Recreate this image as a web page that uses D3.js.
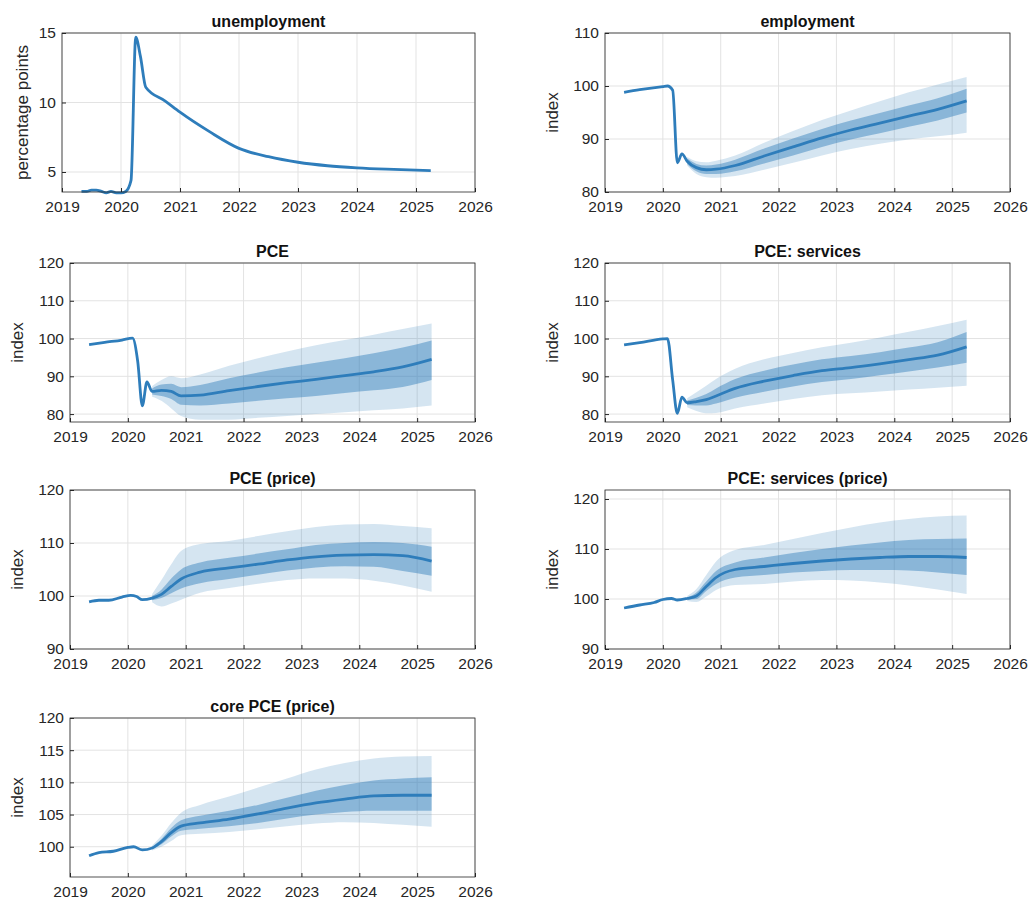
<!DOCTYPE html>
<html><head><meta charset="utf-8">
<script src="https://cdn.jsdelivr.net/npm/d3@7"></script>
<style>
body{margin:0;background:#fff;font-family:"Liberation Sans",Arial,sans-serif}
.tick text{font-size:15.5px;fill:#262626}
.grid line{stroke:#e3e3e3}
</style></head><body>
<svg id="chart" width="1030" height="903"></svg>
<script>
const yearTicks = [2019, 2020, 2021, 2022, 2023, 2024, 2025, 2026];
const bandT = [2020.42, 2020.58, 2020.75, 2020.92, 2021.25, 2021.75, 2022.25, 2022.75, 2023.25, 2023.75, 2024.25, 2024.75, 2025.25];

// unemployment (no bands)
const unempT = [2019.33, 2019.42, 2019.5, 2019.58, 2019.67, 2019.75, 2019.83, 2019.92, 2020.0, 2020.08, 2020.17, 2020.25, 2020.33, 2020.42, 2020.75, 2021.0, 2021.5, 2022.0, 2022.5, 2023.0, 2023.5, 2024.0, 2024.5, 2025.25];
const unempV = [3.6, 3.6, 3.7, 3.7, 3.6, 3.5, 3.6, 3.5, 3.5, 3.6, 4.4, 14.7, 13.3, 11.1, 10.1, 9.3, 7.9, 6.7, 6.1, 5.7, 5.45, 5.3, 5.2, 5.1];

const emplHistT = [2019.33, 2019.6, 2020.0, 2020.08, 2020.17, 2020.25, 2020.33];
const emplHistV = [98.8, 99.3, 99.9, 100.0, 99.2, 85.5, 87.2];
const emplMid = [85.8, 84.6, 84.2, 84.3, 85.0, 86.8, 88.5, 90.2, 91.7, 93.0, 94.3, 95.6, 97.2];
const emplLo1 = [85.3, 83.9, 83.4, 83.4, 83.9, 85.4, 86.9, 88.5, 89.9, 91.1, 92.3, 93.5, 95.0];
const emplHi1 = [86.3, 85.3, 85.0, 85.2, 86.1, 88.2, 90.1, 91.9, 93.5, 94.9, 96.3, 97.7, 99.5];
const emplLo2 = [85.0, 83.4, 82.8, 82.7, 83.0, 84.2, 85.5, 86.9, 88.1, 89.1, 89.9, 90.5, 91.2];
const emplHi2 = [86.6, 85.8, 85.6, 85.9, 86.9, 89.3, 91.5, 93.6, 95.4, 97.1, 98.8, 100.3, 101.7];

const pceHistT = [2019.33, 2019.6, 2019.9, 2020.08, 2020.17, 2020.25, 2020.33];
const pceHistV = [98.4, 99.0, 99.6, 100.1, 94.0, 82.2, 88.5];
const pceMid = [86.0, 86.3, 86.0, 84.8, 85.0, 86.2, 87.3, 88.3, 89.2, 90.2, 91.2, 92.5, 94.5];
const pceLo1 = [85.2, 84.8, 84.0, 82.5, 82.3, 82.8, 83.5, 84.2, 84.8, 85.6, 86.3, 87.2, 89.0];
const pceHi1 = [86.8, 87.8, 88.0, 87.1, 87.7, 89.5, 91.0, 92.4, 93.6, 94.8, 96.1, 97.6, 99.5];
const pceLo2 = [84.6, 83.5, 81.5, 79.5, 78.5, 78.5, 79.0, 79.5, 80.0, 80.5, 81.0, 81.5, 82.3];
const pceHi2 = [87.4, 89.0, 90.0, 89.5, 90.5, 92.8, 94.8, 96.6, 98.2, 99.6, 101.0, 102.5, 104.0];

const servHistT = [2019.33, 2019.6, 2020.0, 2020.08, 2020.17, 2020.25, 2020.33];
const servHistV = [98.3, 98.9, 99.9, 100.0, 89.0, 80.2, 84.5];
const servMid = [83.0, 83.3, 83.8, 84.8, 86.8, 88.7, 90.2, 91.5, 92.3, 93.3, 94.4, 95.6, 97.8];
const servLo1 = [82.4, 82.3, 82.3, 82.8, 84.3, 85.9, 87.3, 88.5, 89.3, 90.3, 91.3, 92.3, 93.6];
const servHi1 = [83.6, 84.3, 85.3, 86.8, 89.3, 91.5, 93.1, 94.5, 95.4, 96.4, 97.6, 99.0, 101.7];
const servLo2 = [81.8, 80.8, 80.2, 80.3, 81.5, 82.8, 84.0, 85.0, 85.5, 86.0, 86.5, 87.0, 87.5];
const servHi2 = [84.2, 85.8, 87.5, 89.3, 92.0, 94.5, 96.2, 97.7, 98.9, 100.3, 101.8, 103.3, 105.0];

const ppHistT = [2019.33, 2019.5, 2019.67, 2019.9, 2020.05, 2020.15, 2020.25];
const ppHistV = [98.9, 99.2, 99.2, 99.8, 100.1, 99.9, 99.3];
const ppMid = [99.6, 100.3, 101.8, 103.2, 104.5, 105.3, 106.0, 106.8, 107.4, 107.7, 107.8, 107.6, 106.6];
const ppLo1 = [99.2, 99.6, 100.5, 101.4, 102.4, 103.2, 104.0, 104.8, 105.4, 105.6, 105.5, 104.7, 103.8];
const ppHi1 = [100.0, 101.2, 103.3, 105.0, 106.3, 107.2, 108.0, 108.8, 109.6, 110.0, 110.2, 110.0, 109.3];
const ppLo2 = [98.8, 98.0, 98.6, 99.3, 100.6, 101.5, 102.3, 103.0, 103.3, 103.3, 102.9, 102.0, 100.8];
const ppHi2 = [100.4, 103.0, 106.0, 108.5, 109.8, 110.4, 111.3, 112.2, 113.0, 113.5, 113.6, 113.2, 112.8];

const spHistT = [2019.33, 2019.6, 2019.85, 2020.0, 2020.15, 2020.25];
const spHistV = [98.2, 98.8, 99.3, 99.9, 100.1, 99.8];
const spMid = [100.1, 100.6, 102.5, 104.3, 105.9, 106.5, 107.1, 107.6, 108.0, 108.3, 108.5, 108.5, 108.3];
const spLo1 = [99.9, 100.0, 101.6, 103.0, 104.3, 104.8, 105.3, 105.6, 105.8, 105.8, 105.7, 105.3, 104.8];
const spHi1 = [100.3, 101.3, 103.5, 105.6, 107.3, 108.3, 109.2, 110.0, 110.7, 111.3, 111.8, 112.0, 112.1];
const spLo2 = [99.6, 99.4, 100.5, 101.8, 102.8, 103.0, 103.5, 103.8, 103.7, 103.3, 102.7, 101.9, 101.0];
const spHi2 = [100.6, 102.0, 104.8, 107.5, 109.8, 110.8, 112.0, 113.2, 114.3, 115.3, 116.0, 116.5, 116.7];

const coreHistT = [2019.33, 2019.5, 2019.75, 2020.0, 2020.1, 2020.25];
const coreHistV = [98.6, 99.1, 99.3, 99.9, 100.0, 99.5];
const coreMid = [99.8, 100.8, 102.2, 103.2, 103.7, 104.3, 105.1, 106.0, 106.8, 107.4, 107.9, 108.0, 108.0];
const coreLo1 = [99.6, 100.4, 101.6, 102.5, 102.8, 103.2, 103.7, 104.4, 105.0, 105.4, 105.6, 105.6, 105.6];
const coreHi1 = [100.0, 101.2, 102.9, 104.1, 104.8, 105.6, 106.5, 107.6, 108.7, 109.6, 110.3, 110.6, 110.8];
const coreLo2 = [99.4, 100.0, 100.9, 101.8, 102.0, 102.3, 102.7, 103.2, 103.6, 103.8, 103.7, 103.4, 103.1];
const coreHi2 = [100.2, 101.7, 103.7, 105.3, 106.5, 107.8, 109.2, 110.6, 112.0, 113.0, 113.7, 114.0, 114.1];

const panels = [
  {title: "unemployment", ylab: "percentage points", col: 0, row: 0, left: 62, dom: [3.56, 15], ticks: [5, 10, 15],
   t: unempT, v: unempV},
  {title: "employment", ylab: "index", col: 1, row: 0, left: 605, dom: [80, 110], ticks: [80, 90, 100, 110],
   t: emplHistT.concat(bandT), v: emplHistV.concat(emplMid), band: [emplLo1, emplHi1, emplLo2, emplHi2]},
  {title: "PCE", ylab: "index", col: 0, row: 1, left: 70, dom: [77.9, 120], ticks: [80, 90, 100, 110, 120],
   t: pceHistT.concat(bandT), v: pceHistV.concat(pceMid), band: [pceLo1, pceHi1, pceLo2, pceHi2]},
  {title: "PCE: services", ylab: "index", col: 1, row: 1, left: 605, dom: [77.9, 120], ticks: [80, 90, 100, 110, 120],
   t: servHistT.concat(bandT), v: servHistV.concat(servMid), band: [servLo1, servHi1, servLo2, servHi2]},
  {title: "PCE (price)", ylab: "index", col: 0, row: 2, left: 70, dom: [90, 120], ticks: [90, 100, 110, 120],
   t: ppHistT.concat(bandT), v: ppHistV.concat(ppMid), band: [ppLo1, ppHi1, ppLo2, ppHi2]},
  {title: "PCE: services (price)", ylab: "index", col: 1, row: 2, left: 605, dom: [90, 121.8], ticks: [90, 100, 110, 120],
   t: spHistT.concat(bandT), v: spHistV.concat(spMid), band: [spLo1, spHi1, spLo2, spHi2]},
  {title: "core PCE (price)", ylab: "index", col: 0, row: 3, left: 70, dom: [95.3, 120], ticks: [100, 105, 110, 115, 120],
   t: coreHistT.concat(bandT), v: coreHistV.concat(coreMid), band: [coreLo1, coreHi1, coreLo2, coreHi2]}
];

const rowTop = [33, 263, 490, 718];
const colRight = [475, 1010];
const plotH = 159;
const blue = "#2e7dbb";
const svg = d3.select("#chart");

panels.forEach(p => {
  const top = rowTop[p.row];
  const w = colRight[p.col] - p.left;
  const g = svg.append("g").attr("transform", `translate(${p.left},${top})`);
  const x = d3.scaleLinear().domain([2019, 2026]).range([0, w]);
  const y = d3.scaleLinear().domain(p.dom).range([plotH, 0]);

  // grid
  const grid = g.append("g").attr("class", "grid");
  grid.selectAll("line.v").data(yearTicks).join("line")
    .attr("x1", d => x(d)).attr("x2", d => x(d)).attr("y1", 0).attr("y2", plotH);
  grid.selectAll("line.h").data(p.ticks).join("line").attr("class", "h")
    .attr("x1", 0).attr("x2", w).attr("y1", d => y(d)).attr("y2", d => y(d));

  if (p.band) {
    const [lo1, hi1, lo2, hi2] = p.band;
    const area = (lo, hi) => d3.area().curve(d3.curveMonotoneX)
      .x((d, i) => x(bandT[i])).y0((d, i) => y(lo[i])).y1((d, i) => y(hi[i]))(bandT);
    g.append("path").attr("d", area(lo2, hi2)).attr("fill", blue).attr("opacity", 0.2);
    g.append("path").attr("d", area(lo1, hi1)).attr("fill", blue).attr("opacity", 0.45);
  }

  const line = d3.line().curve(d3.curveMonotoneX).x((d, i) => x(p.t[i])).y(d => y(d));
  g.append("path").attr("d", line(p.v)).attr("fill", "none")
    .attr("stroke", blue).attr("stroke-width", 2.8).attr("stroke-linejoin", "round");

  // axes
  g.append("g").attr("transform", `translate(0,${plotH})`)
    .call(d3.axisBottom(x).tickValues(yearTicks).tickFormat(d3.format("d")).tickSizeInner(-4).tickSizeOuter(0).tickPadding(9))
    .call(a => a.select(".domain").remove()).selectAll("line").attr("stroke", "#262626");
  g.append("g")
    .call(d3.axisLeft(y).tickValues(p.ticks).tickSizeInner(-4).tickSizeOuter(0).tickPadding(6))
    .call(a => a.select(".domain").remove()).selectAll("line").attr("stroke", "#262626");
  g.append("rect").attr("width", w).attr("height", plotH)
    .attr("fill", "none").attr("stroke", "#262626").attr("stroke-width", 0.8);

  g.append("text").attr("x", w / 2).attr("y", -6).attr("text-anchor", "middle")
    .attr("font-size", 16).attr("font-weight", "bold").attr("fill", "#111").text(p.title);
  g.append("text").attr("transform", `translate(${p.ylab === "index" ? -47 : -34},${plotH / 2}) rotate(-90)`)
    .attr("text-anchor", "middle").attr("font-size", 17).attr("fill", "#262626").text(p.ylab);
});
</script></body></html>
